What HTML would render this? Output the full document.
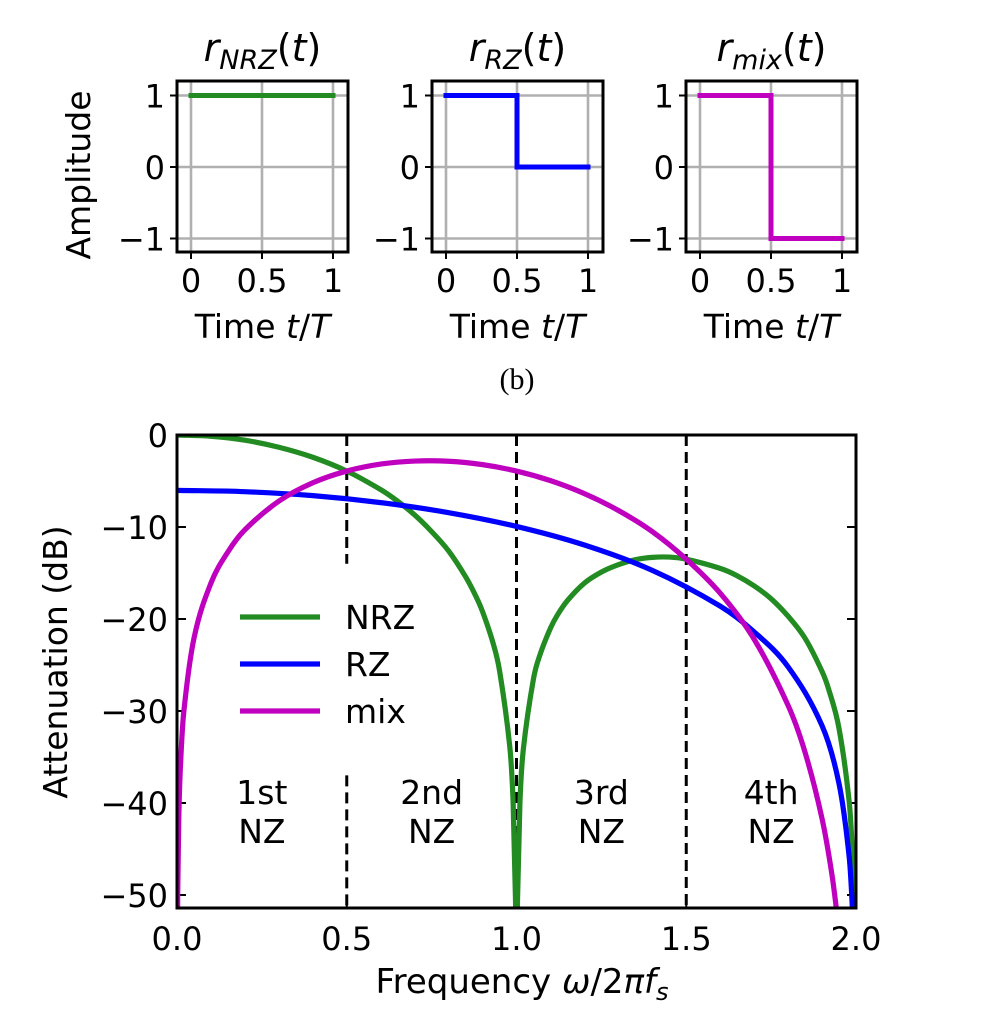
<!DOCTYPE html>
<html><head><meta charset="utf-8"><style>
body{margin:0;background:#fff}
svg{display:block;font-family:"DejaVu Sans","Liberation Sans",sans-serif}
</style></head><body>
<svg id="fig" width="990" height="1013" viewBox="0 0 990 1013" xmlns="http://www.w3.org/2000/svg"></svg>
<script>
// ---- data ----
const pulseNames = ["NRZ","RZ","mix"];
const pulseT = [[0,1],[0,0.5,0.5,1],[0,0.5,0.5,1]];
const pulseV = [[1,1],[1,1,0,0],[1,1,-1,-1]];
const smallTicksX = [0,0.5,1];
const smallTickLabelsX = ["0","0.5","1"];
const smallTicksY = [1,0,-1];
const smallTickLabelsY = ["1","0","\u22121"];

const nrzF = [0,0.1,0.2,0.3,0.4,0.5,0.6,0.65,0.7,0.75,0.8,0.85,0.88,0.9,0.93,0.95,0.98,0.99,0.997,1.0,1.003,1.01,1.02,1.05,1.07,1.1,1.12,1.15,1.2,1.25,1.3,1.35,1.4,1.45,1.5,1.6,1.65,1.7,1.75,1.8,1.85,1.9,1.92,1.95,1.98,1.99,1.995];
const nrzDb = [0,-0.14,-0.57,-1.33,-2.42,-3.92,-5.94,-7.2,-8.69,-10.5,-12.6,-15.4,-17.5,-19.2,-22.5,-25.6,-33.8,-39.9,-50.4,-60,-50.5,-40.1,-34.2,-26.5,-23.8,-21.0,-19.6,-18.0,-16.1,-14.9,-14.1,-13.55,-13.3,-13.27,-13.5,-14.5,-15.3,-16.4,-17.8,-19.7,-22.1,-25.7,-27.7,-31.9,-39.9,-46.0,-52.5];
const rzF = [0,0.2,0.4,0.6,0.8,1.0,1.2,1.4,1.6,1.7,1.8,1.9,1.95,1.98,1.99,1.995];
const rzDb = [-6.02,-6.16,-6.59,-7.35,-8.44,-9.94,-11.96,-14.71,-18.6,-21.4,-25.2,-31.6,-37.9,-45.9,-52,-58];
const mixF = [0.0005,0.002,0.005,0.01,0.02,0.05,0.1,0.15,0.2,0.3,0.4,0.5,0.6,0.7,0.8,0.9,1.0,1.1,1.2,1.3,1.4,1.5,1.6,1.7,1.8,1.85,1.9,1.93,1.95];
const mixDb = [-62,-50.1,-42.1,-36.1,-30.1,-22.1,-16.1,-12.7,-10.3,-7.19,-5.19,-3.92,-3.16,-2.83,-2.85,-3.22,-3.92,-4.96,-6.37,-8.2,-10.5,-13.5,-17.2,-22.2,-29.4,-34.5,-41.7,-48.0,-53.9];
const mainTicksX = [0,0.5,1.0,1.5,2.0];
const mainTickLabelsX = ["0.0","0.5","1.0","1.5","2.0"];
const mainTicksY = [0,-10,-20,-30,-40,-50];
const mainTickLabelsY = ["0","\u221210","\u221220","\u221230","\u221240","\u221250"];
const nzCenters = [0.25,0.75,1.25,1.75];
const nzLabels = ["1st","2nd","3rd","4th"];
const nzBounds = [0.5,1.0,1.5];

const colors = {NRZ:"#228b22",RZ:"#0000ff",mix:"#bf00bf"};
const NS="http://www.w3.org/2000/svg";
const svg=document.getElementById('fig');
function mk(tag,attrs,parent,text){const e=document.createElementNS(NS,tag);for(const k in attrs)e.setAttribute(k,attrs[k]);if(text!==undefined)e.textContent=text;(parent||svg).appendChild(e);return e;}
function smoothPath(xs,ys){
  const n=xs.length;const m=[];
  for(let i=0;i<n;i++){
    const a=Math.max(0,i-1),b=Math.min(n-1,i+1);
    m.push((ys[b]-ys[a])/(xs[b]-xs[a]));
  }
  let d='M'+xs[0].toFixed(2)+','+ys[0].toFixed(2);
  for(let i=0;i<n-1;i++){
    const h=xs[i+1]-xs[i];
    d+=' C'+(xs[i]+h/3).toFixed(2)+','+(ys[i]+m[i]*h/3).toFixed(2)+' '+(xs[i+1]-h/3).toFixed(2)+','+(ys[i+1]-m[i+1]*h/3).toFixed(2)+' '+xs[i+1].toFixed(2)+','+ys[i+1].toFixed(2);
  }
  return d;
}

const FT=32, FL=33;
// ---- small plots ----
const lefts=[177,432,686], W=171, top0=81, H=171;
for(let p=0;p<3;p++){
  const L=lefts[p];
  const sx=t=>L+14+t*142;
  const sy=v=>167-v*71.5;
  const g=mk('g',{});
  
  
  smallTicksX.forEach((t,i)=>{
    const l=mk('line',{x1:sx(t),x2:sx(t),y1:top0,y2:top0+H,stroke:'#b0b0b0','stroke-width':2.6},g);
    
    mk('line',{x1:sx(t),x2:sx(t),y1:top0+H,y2:top0+H+7,stroke:'#000','stroke-width':2},g);
    const tx=mk('text',{x:sx(t),y:292,'font-size':FT,'text-anchor':'middle'},g,smallTickLabelsX[i]);
    
  });
  smallTicksY.forEach((v,i)=>{
    const l=mk('line',{x1:L,x2:L+W,y1:sy(v),y2:sy(v),stroke:'#b0b0b0','stroke-width':2.6},g);
    
    mk('line',{x1:L-7,x2:L,y1:sy(v),y2:sy(v),stroke:'#000','stroke-width':2},g);
    const tx=mk('text',{x:L-12,y:sy(v)+12,'font-size':FT,'text-anchor':'end'},g,smallTickLabelsY[i]);
    
  });
  const pts=pulseT[p].map((t,i)=>sx(t)+','+sy(pulseV[p][i])).join(' ');
  const pl=mk('polyline',{points:pts,fill:'none',stroke:colors[pulseNames[p]],'stroke-width':5,'stroke-linecap':'square'},g);
  
  mk('rect',{x:L,y:top0,width:W,height:H,fill:'none',stroke:'#000','stroke-width':3},g);
  const tt=mk('text',{x:L+W/2,y:61,'font-size':38,'text-anchor':'middle'},g);
  
  mk('tspan',{'font-style':'italic'},tt,'r');
  mk('tspan',{'font-style':'italic','font-size':27,dy:8},tt,pulseNames[p]);
  mk('tspan',{dy:-8},tt,'(');
  mk('tspan',{'font-style':'italic'},tt,'t');
  mk('tspan',{},tt,')');
  const xl=mk('text',{x:L+W/2,y:338,'font-size':FL,'text-anchor':'middle'},g);
  
  mk('tspan',{},xl,'Time ');mk('tspan',{'font-style':'italic'},xl,'t');mk('tspan',{},xl,'/');mk('tspan',{'font-style':'italic'},xl,'T');
}
const amp=mk('text',{x:0,y:0,'font-size':FL,'text-anchor':'middle',transform:'translate(90,175) rotate(-90)'},svg,'Amplitude');

const cap=mk('text',{x:517,y:389,'font-size':30,'text-anchor':'middle','font-family':'Liberation Serif, serif'},svg,'(b)');


// ---- main plot ----
const ML=177, MR=856, MT=435, MB=908;
const X=f=>ML+f/2*(MR-ML);
const Y=d=>MT-d*9.2;
const mg=mk('g',{});

const cp=mk('clipPath',{id:'clip'},mg);
mk('rect',{x:ML,y:MT,width:MR-ML,height:MB-MT},cp);

mainTicksX.forEach((f,i)=>{
  mk('line',{x1:X(f),x2:X(f),y1:MB,y2:MB-9,stroke:'#000','stroke-width':2},mg);
  mk('line',{x1:X(f),x2:X(f),y1:MT,y2:MT+9,stroke:'#000','stroke-width':2},mg);
  const t=mk('text',{x:X(f),y:950,'font-size':FT,'text-anchor':'middle'},mg,mainTickLabelsX[i]);
  
});
mainTicksY.forEach((d,i)=>{
  mk('line',{x1:ML,x2:ML+9,y1:Y(d),y2:Y(d),stroke:'#000','stroke-width':2},mg);
  mk('line',{x1:MR,x2:MR-9,y1:Y(d),y2:Y(d),stroke:'#000','stroke-width':2},mg);
  const t=mk('text',{x:ML-9,y:Y(d)+12,'font-size':FT,'text-anchor':'end'},mg,mainTickLabelsY[i]);
  
});
nzBounds.forEach(f=>{
  const segs = f===0.5 ? [[MT,Y(-14)],[Y(-37),MB]] : [[MT,MB]];
  segs.forEach(s=>{
    const l=mk('line',{x1:X(f),x2:X(f),y1:s[0],y2:s[1],stroke:'#000','stroke-width':3,'stroke-dasharray':'11,6'},mg);
    
  });
});
nzCenters.forEach((f,i)=>{
  const t=mk('text',{x:X(f),y:804,'font-size':FL,'text-anchor':'middle'},mg,nzLabels[i]);
  
  const t2=mk('text',{x:X(f),y:843,'font-size':FL,'text-anchor':'middle'},mg,'NZ');
  
});
const series=[["NRZ",nrzF,nrzDb],["RZ",rzF,rzDb],["mix",mixF,mixDb]];
series.forEach(s=>{
  const d=smoothPath(s[1].map(X),s[2].map(Y));
  const pl=mk('path',{d:d,fill:'none',stroke:colors[s[0]],'stroke-width':5.2,'stroke-linejoin':'round','clip-path':'url(#clip)'},mg);
  
});
const legY=[617,664,711];
series.forEach((s,i)=>{
  const lg=mk('g',{},mg);
  
  mk('line',{x1:240,x2:320,y1:legY[i],y2:legY[i],stroke:colors[s[0]],'stroke-width':5.2},lg);
  mk('text',{x:345,y:legY[i]+12,'font-size':FL},lg,s[0]);
});
mk('rect',{x:ML,y:MT,width:MR-ML,height:MB-MT,fill:'none',stroke:'#000','stroke-width':3},mg);
const yl=mk('text',{x:0,y:0,'font-size':FL,'text-anchor':'middle',transform:'translate(67,662) rotate(-90)'},svg,'Attenuation (dB)');

const xl=mk('text',{x:522,y:993,'font-size':34,'text-anchor':'middle'},svg);

mk('tspan',{},xl,'Frequency ');mk('tspan',{'font-style':'italic'},xl,'\u03c9');mk('tspan',{},xl,'/2');
mk('tspan',{'font-style':'italic'},xl,'\u03c0f');mk('tspan',{'font-style':'italic','font-size':24,dy:7},xl,'s');
</script>
</body></html>
